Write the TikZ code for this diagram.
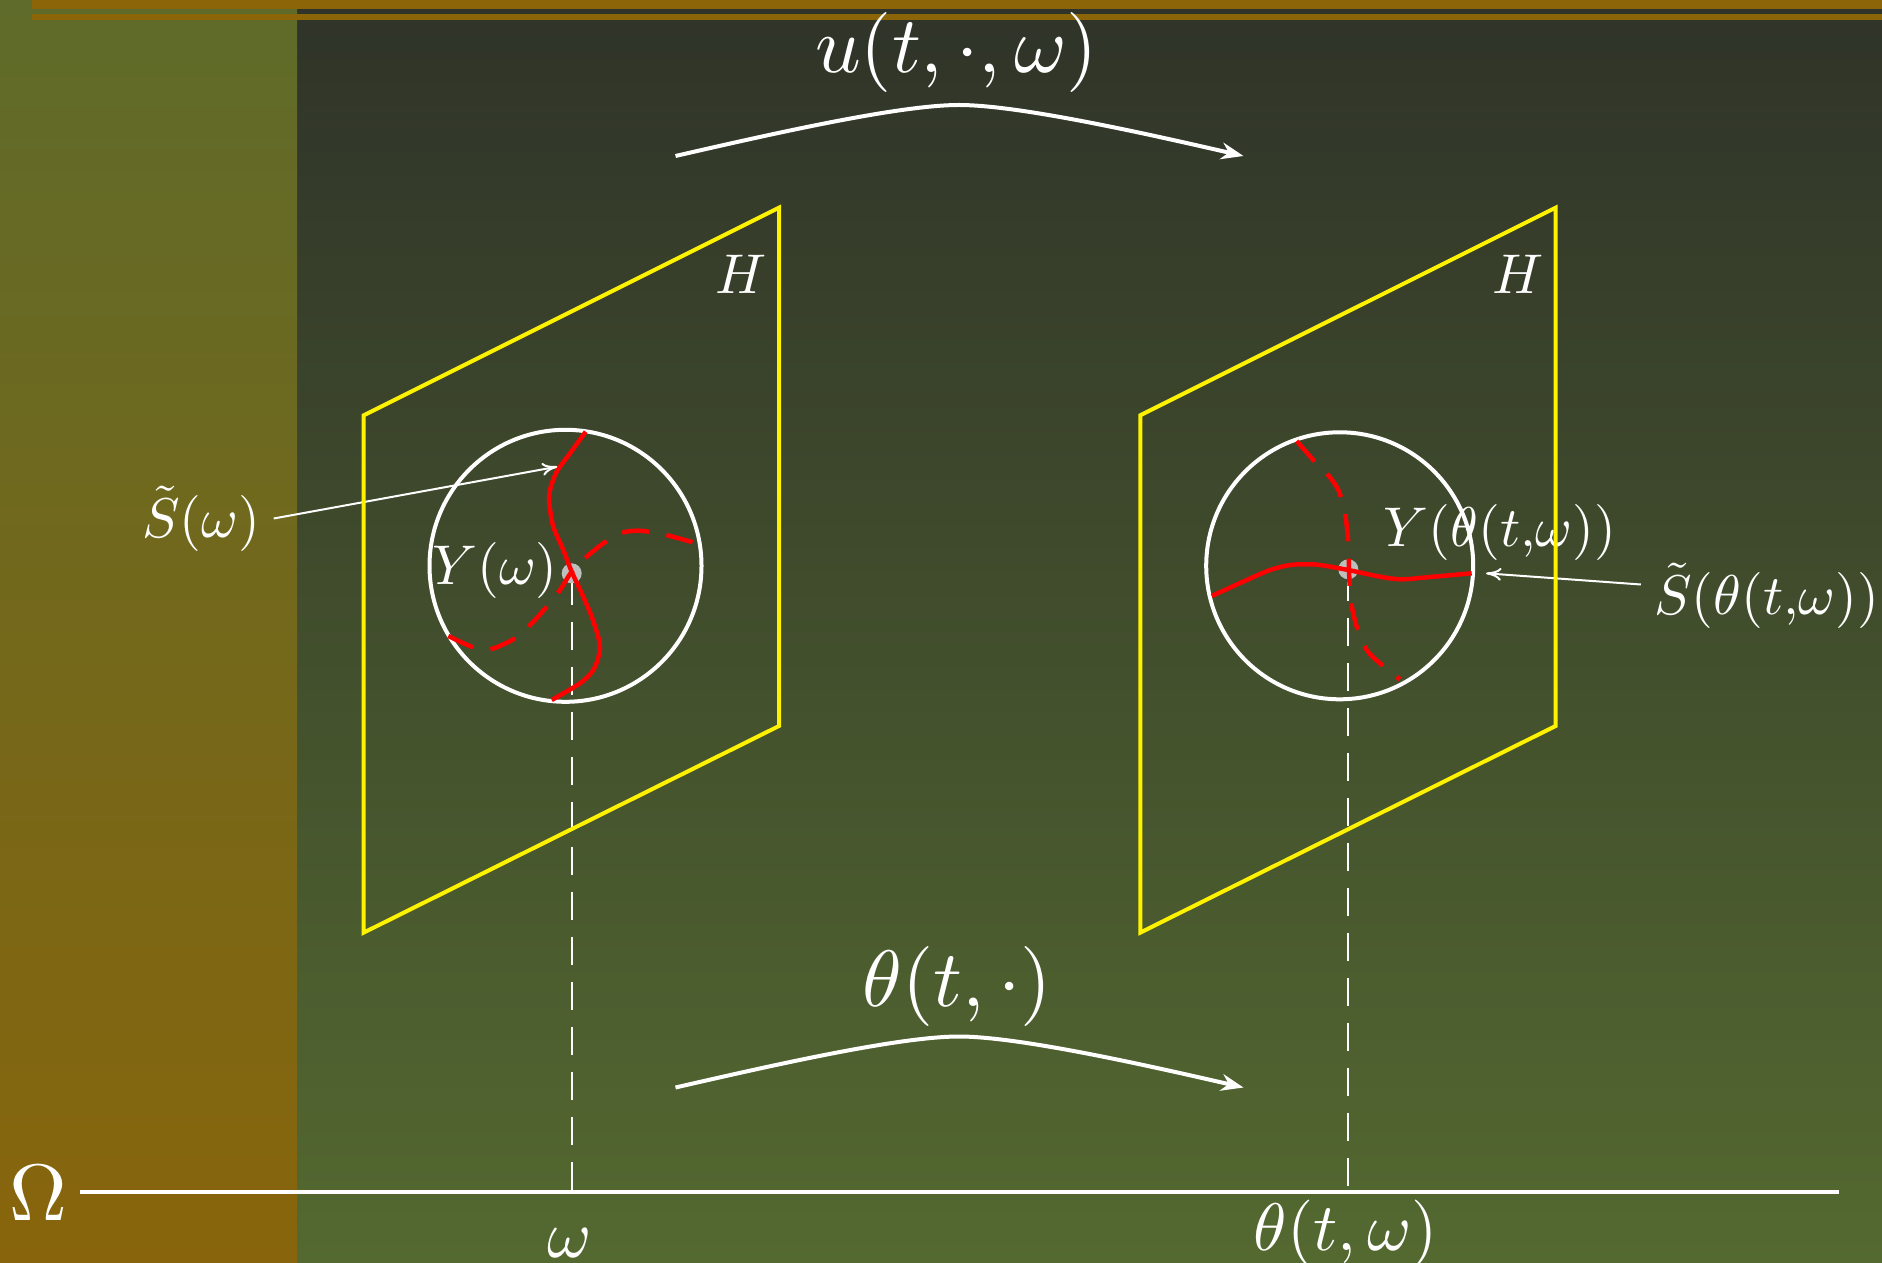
\documentclass[tikz,border=0pt]{standalone}
\usepackage{graphicx}
\usetikzlibrary{arrows.meta}
\definecolor{bandor}{HTML}{8B6508}
\definecolor{sidetop}{HTML}{5F6B2A}
\definecolor{sidebot}{HTML}{88650C}
\definecolor{maintop}{HTML}{2F3329}
\definecolor{mainbot}{HTML}{546930}
\definecolor{dotgray}{HTML}{BEBEBE}
\tikzset{
 px/.style={x=0.125pt,y=-0.125pt},
 plane/.style={draw=yellow,line width=0.5pt,line join=miter},
 ball/.style={draw=white,line width=0.5pt},
 redsolid/.style={draw=red,line width=0.56pt},
 reddash/.style={draw=red,line width=0.56pt,dash pattern=on 3.4pt off 2.2pt},
 vdash/.style={draw=white,line width=0.25pt,dash pattern=on 3.5pt off 2.125pt},
 axisline/.style={draw=white,line width=0.5pt},
 bigarrow/.style={draw=white,line width=0.5pt,-{Stealth[length=2.8pt,width=2.1pt]}},
 thinarrow/.style={draw=white,line width=0.25pt,-{To[length=1.9pt,width=1.6pt]}},
 lbl/.style={text=white,inner sep=0pt,anchor=base},
 ydot/.style={circle,fill=dotgray,minimum size=2.5pt,inner sep=0pt},
}
\begin{document}
\begin{tikzpicture}[px]
\useasboundingbox (0,0) rectangle (1882,1262);
\clip (0,0) rectangle (1882,1262);
% background
\shade[top color=maintop,bottom color=mainbot] (297,0) rectangle (1882,1262);
\shade[top color=sidetop,bottom color=sidebot] (0,0) rectangle (297,1262);
\fill[bandor] (32,0) rectangle (1882,9.3);
\fill[bandor] (32,14) rectangle (1882,20);

% big arrows
\coordinate (ua) at (675.5,156);
\coordinate (ub) at (959,105);
\coordinate (uc) at (1243.5,156);
\draw[bigarrow] (ua) .. controls (775.5,133) and (900,105) .. (ub) .. controls (1018,105) and (1143.5,133) .. (uc);
\coordinate (ta) at (675.5,1087.5);
\coordinate (tb) at (959,1036.5);
\coordinate (tc) at (1243.5,1087.5);
\draw[bigarrow] (ta) .. controls (775.5,1064.5) and (900,1036.5) .. (tb) .. controls (1018,1036.5) and (1143.5,1064.5) .. (tc);

% circles
\draw[ball] (565.5,565.8) circle[radius=136];
\draw[ball] (1339.7,565.8) circle[radius=133.5];

% labels
\node[lbl] (ulab) at (956.6,72.9) {$u(t,\cdot,\omega)$};
\node[lbl] (thlab) at (957,1006) {$\theta(t,\cdot)$};
\node[lbl] (Om) at (38.5,1220) {$\Omega$};
\node[lbl] (om) at (570,1257) {\scalebox{0.84}{$\omega$}};
\node[lbl] (thom) at (1346,1250) {\scalebox{0.84}{$\theta(t,\omega)$}};
\node[lbl] (H1) at (741,294) {\scalebox{0.7}{$H$}};
\node[lbl] (H2) at (1518,294) {\scalebox{0.7}{$H$}};
\node[lbl] (S1) at (201,537.5) {\scalebox{0.7}{$\tilde S(\omega)$}};
\node[lbl] (Y1) at (495,584.5) {\scalebox{0.7}{$Y(\omega)$}};
\node[lbl] (Y2) at (1500,546.3) {\scalebox{0.7}{$Y(\theta(t{,}\omega))$}};
\node[lbl] (S2) at (1766.7,614.3) {\scalebox{0.7}{$\tilde S(\theta(t{,}\omega))$}};

% axis and vertical dashed lines
\coordinate (ax0) at (80,1192);
\coordinate (ax1) at (1839,1192);
\draw[axisline] (ax0) -- (ax1);
\coordinate (d1) at (571.7,576.8);
\coordinate (a1) at (571.7,1192);
\draw[vdash] (d1) -- (a1);
\coordinate (d2) at (1348.3,572.8);
\coordinate (a2) at (1348.3,1192);
\draw[vdash] (d2) -- (a2);

% points
\node[ydot] (p1) at (571.7,573.3) {};
\node[ydot] (p2) at (1348.3,569.3) {};

% red curves left
\draw[redsolid] plot[smooth] coordinates {(585.7,431.7) (570,453.3) (556.7,471.7) (550,490) (549.3,503.3) (553.3,526.7) (563.3,550) (571.7,571.7) (581.7,593.3) (591.7,616.7) (599,640) (599.3,653.3) (593.3,670) (580,683.3) (551.7,700)};
\draw[reddash] plot[smooth] coordinates {(448.3,636) (471.7,646.7) (490,649.3) (515,638.3) (531.7,623.3) (546.7,606.7) (560,590) (571.7,571.7) (586.7,556.7) (603.3,543.3) (620,533.3) (638.3,530.7) (663.3,534.3) (700,544.3)};
% red curves right
\draw[redsolid] plot[smooth] coordinates {(1211.7,596) (1246.7,580) (1270,570) (1290,565) (1306.7,564.3) (1320,565) (1348.3,570) (1380,576.7) (1401.7,579.3) (1433.3,576.7) (1471.7,573.3)};
\draw[reddash] plot[smooth] coordinates {(1296.7,441) (1313.3,460) (1326.7,473.3) (1338.3,490) (1345,513.3) (1348.3,543.3) (1349,570) (1350.7,600) (1356.7,626.7) (1366.7,650) (1380,663.3) (1400,679.3)};

% thin arrows
\coordinate (s1a) at (273.7,518.5);
\coordinate (s1b) at (557.3,466.7);
\draw[thinarrow] (s1a) -- (s1b);
\coordinate (s2a) at (1640.8,584.5);
\coordinate (s2b) at (1486,573.3);
\draw[thinarrow] (s2a) -- (s2b);

% planes
\draw[plane] (363.7,415.3) -- (779,207.7) -- (779,726) -- (363.7,932.6) -- cycle;
\draw[plane] (1140.3,415.3) -- (1555.6,207.7) -- (1555.6,726) -- (1140.3,932.6) -- cycle;
\end{tikzpicture}
\end{document}
